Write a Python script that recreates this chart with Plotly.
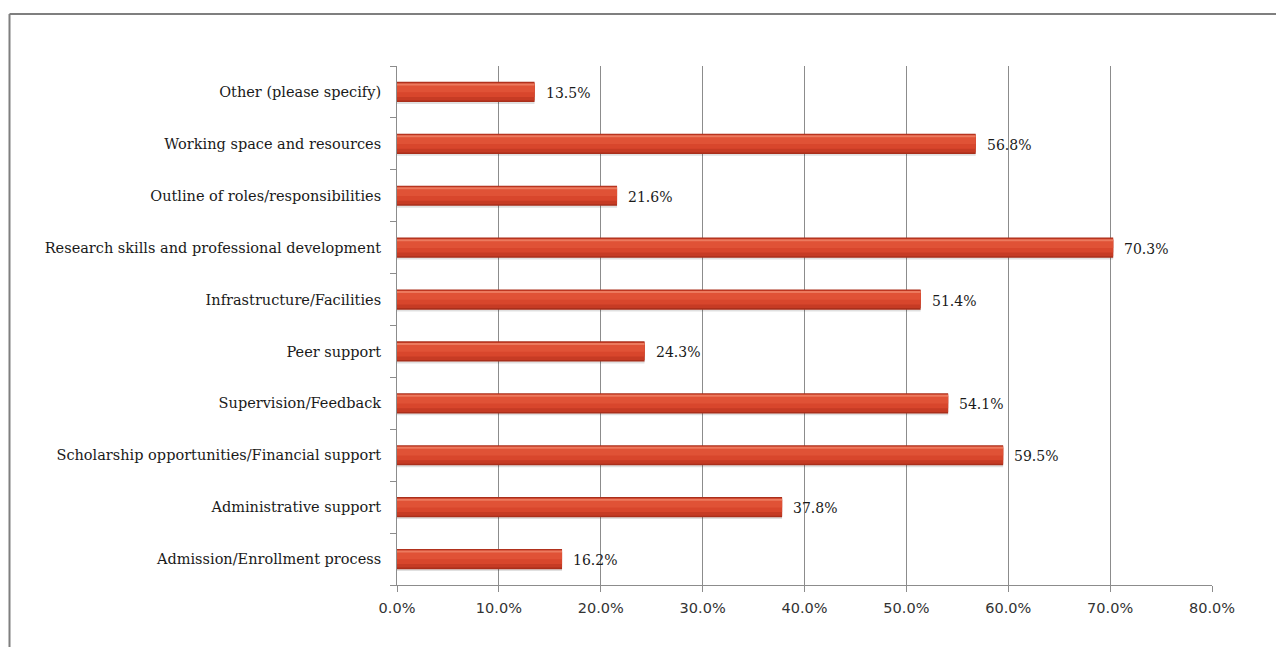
import plotly.graph_objects as go

# Survey results, listed bottom-to-top as plotted on the category axis
categories = [
    "Admission/Enrollment process",
    "Administrative support",
    "Scholarship opportunities/Financial support",
    "Supervision/Feedback",
    "Peer support",
    "Infrastructure/Facilities",
    "Research skills and professional development",
    "Outline of roles/responsibilities",
    "Working space and resources",
    "Other (please specify)",
]
percentages = [16.2, 37.8, 59.5, 54.1, 24.3, 51.4, 70.3, 21.6, 56.8, 13.5]
x_ticks = [0, 10, 20, 30, 40, 50, 60, 70, 80]
x_tick_labels = [f"{v:.1f}%" for v in x_ticks]

W, H = 1276, 647
M_L, M_R, M_T, M_B = 397, 64, 66, 62
plot_w = W - M_L - M_R
plot_h = H - M_T - M_B

SERIF = "DejaVu Serif"
BAR_W = 0.39
fig = go.Figure()

# Layered bars give the rounded, shaded look of each bar
layers = [
    # (colour, width, offset)
    ("rgba(0,0,0,0.12)", BAR_W, -BAR_W / 2 - 0.035),   # soft drop shadow
    ("#A92F1B", BAR_W, -BAR_W / 2),                      # dark rim
    ("#C63B24", BAR_W * 0.88, -BAR_W / 2 + 0.03),       # lower body
    ("#D8462C", BAR_W * 0.62, -BAR_W / 2 + 0.10),       # body
    ("#E05236", BAR_W * 0.36, -BAR_W / 2 + 0.19),       # upper body
    ("#EC7A5E", BAR_W * 0.10, BAR_W / 2 - 0.07),        # top highlight
]
for colour, width, offset in layers:
    fig.add_trace(go.Bar(
        y=categories, x=percentages, orientation="h",
        width=[width] * len(categories), offset=offset,
        marker=dict(color=colour, line=dict(width=0)),
        hoverinfo="skip", showlegend=False,
    ))

# Value labels to the right of each bar
for cat, val in zip(categories, percentages):
    fig.add_annotation(
        x=val, y=cat, text=f"{val:.1f}%", showarrow=False,
        xanchor="left", yanchor="middle", xshift=9, yshift=-1,
        font=dict(family=SERIF, size=14, color="#1a1a1a"),
    )

# Outer frame of the chart area
px = lambda v: (v - M_L) / plot_w
py = lambda v: (H - M_B - v) / plot_h
fig.add_shape(type="line", xref="paper", yref="paper",
              x0=px(9.5), x1=px(1300), y0=py(14), y1=py(14),
              line=dict(color="#7f7f7f", width=2))
fig.add_shape(type="line", xref="paper", yref="paper",
              x0=px(9.5), x1=px(9.5), y0=py(14), y1=py(700),
              line=dict(color="#7f7f7f", width=2))

fig.update_layout(
    width=W, height=H,
    margin=dict(l=M_L, r=M_R, t=M_T, b=M_B, pad=0),
    paper_bgcolor="white", plot_bgcolor="white",
    barmode="overlay",
    xaxis=dict(
        range=[0, 80], tickvals=x_ticks, ticktext=x_tick_labels,
        showgrid=True, gridcolor="#8c8c8c", gridwidth=1,
        showline=True, linecolor="#8c8c8c", linewidth=1,
        ticks="outside", ticklen=6, tickcolor="#8c8c8c",
        ticklabelstandoff=4,
        tickfont=dict(family="DejaVu Sans", size=14.5, color="#333333"),
        zeroline=False, fixedrange=True,
    ),
    yaxis=dict(
        type="category", categoryorder="array", categoryarray=categories,
        range=[-0.5, len(categories) - 0.5],
        showline=True, linecolor="#8c8c8c", linewidth=1,
        ticks="outside", ticklen=6, tickcolor="#8c8c8c", tickson="boundaries",
        ticklabelstandoff=12,
        tickfont=dict(family=SERIF, size=14.5, color="#1a1a1a"),
        showgrid=False, zeroline=False, fixedrange=True,
    ),
)

fig.write_html("out.html")
